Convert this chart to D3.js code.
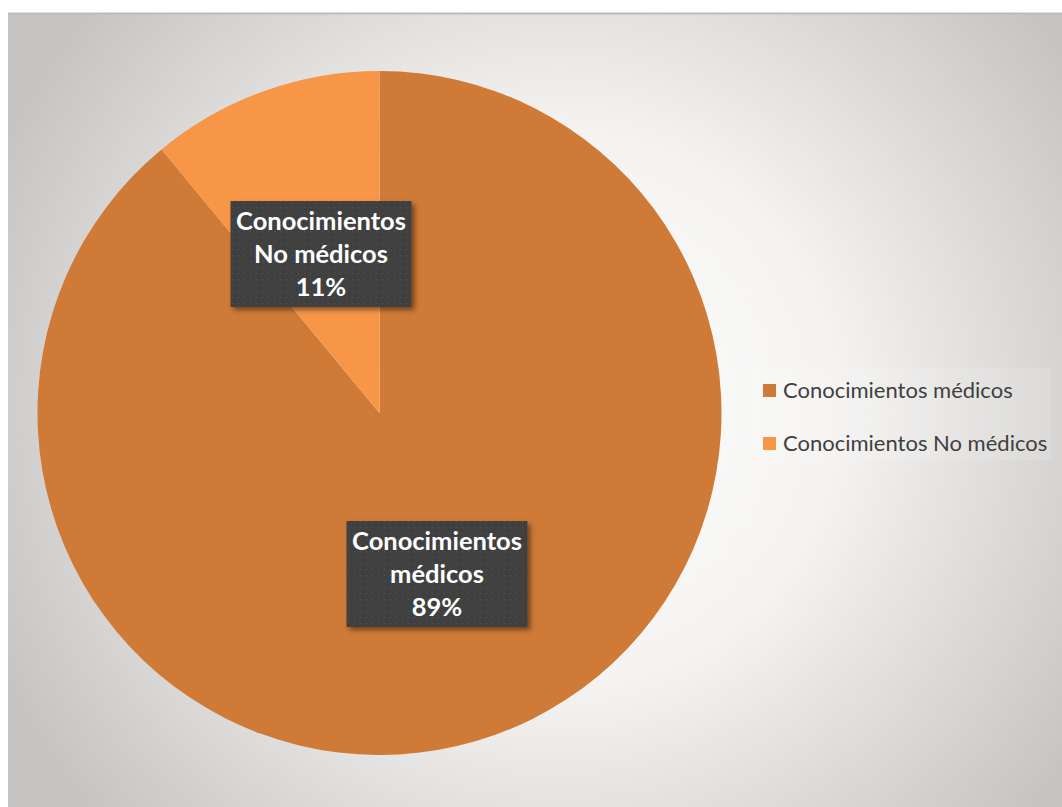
<!DOCTYPE html>
<html>
<head>
<meta charset="utf-8">
<script src="https://cdn.jsdelivr.net/npm/d3@7"></script>
<style>
  html, body { margin: 0; padding: 0; background: #fff; }
</style>
</head>
<body>
<div id="chart"></div>
<script>
// Data
const categories = ["Conocimientos médicos", "Conocimientos No médicos"];
const values = [89, 11];
const labelLines = [["Conocimientos", "médicos", "89%"], ["Conocimientos", "No médicos", "11%"]];
const colors = ["#CF7A36", "#F79646"];

const width = 1062;
const height = 807;

const svg = d3.select("#chart")
    .append("svg")
    .attr("width", width)
    .attr("height", height)
    .style("display", "block");

const defs = svg.append("defs");

// Background radial gradient (white center, grey edges).
const bg = defs.append("radialGradient")
    .attr("id", "bg")
    .attr("gradientUnits", "userSpaceOnUse")
    .attr("cx", 560).attr("cy", 410).attr("r", 620);
bg.append("stop").attr("offset", "0%").attr("stop-color", "#ffffff");
bg.append("stop").attr("offset", "45%").attr("stop-color", "#f4f3f2");
bg.append("stop").attr("offset", "100%").attr("stop-color", "#c6c4c2");

// Dot pattern for label boxes.
const pat = defs.append("pattern")
    .attr("id", "dots")
    .attr("patternUnits", "userSpaceOnUse")
    .attr("width", 6).attr("height", 6);
pat.append("rect").attr("width", 6).attr("height", 6).attr("fill", "#3f3f3f");
pat.append("rect").attr("x", 1).attr("y", 1).attr("width", 1).attr("height", 1).attr("fill", "#555");

const shadow = defs.append("filter").attr("id", "shadow")
    .attr("x", "-10%").attr("y", "-10%").attr("width", "130%").attr("height", "130%");
shadow.append("feDropShadow")
    .attr("dx", 3).attr("dy", 3).attr("stdDeviation", 2.5)
    .attr("flood-color", "#000").attr("flood-opacity", 0.45);

// Chart area.
svg.append("rect")
    .attr("x", 8).attr("y", 13)
    .attr("width", width - 8).attr("height", height - 13)
    .attr("fill", "url(#bg)");
svg.append("line")
    .attr("x1", 8).attr("x2", width)
    .attr("y1", 13.5).attr("y2", 13.5)
    .attr("stroke", "#bdbbb9").attr("stroke-width", 2);

// Pie.
const cx = 379.5, cy = 413, radius = 342;
const pie = d3.pie().sort(null).value(d => d);
const arcs = pie(values);
const arc = d3.arc().innerRadius(0).outerRadius(radius);

const g = svg.append("g").attr("transform", `translate(${cx},${cy})`);
g.selectAll("path.slice")
    .data(arcs)
    .enter()
    .append("path")
    .attr("class", "slice")
    .attr("d", arc)
    .attr("fill", (d, i) => colors[i]);

// Data labels.
const labelPos = [
    [ 437 - cx, 574 - cy ],
    [ 321 - cx, 254 - cy ]
];
const boxW = 181, boxH = 106, lineH = 33;

arcs.forEach((d, i) => {
    const [lx, ly] = labelPos[i];
    const lg = g.append("g").attr("transform", `translate(${lx},${ly})`);
    lg.append("rect")
        .attr("x", -boxW / 2).attr("y", -boxH / 2)
        .attr("width", boxW).attr("height", boxH)
        .attr("fill", "url(#dots)")
        .attr("filter", "url(#shadow)");
    lg.selectAll("text")
        .data(labelLines[i])
        .enter()
        .append("text")
        .attr("x", 0)
        .attr("y", (t, j) => (j - 1) * lineH + 9)
        .attr("text-anchor", "middle")
        .attr("font-family", "Lato, 'Open Sans', sans-serif")
        .attr("font-weight", "bold")
        .attr("font-size", "25.5px")
        .attr("fill", "#ffffff")
        .text(t => t);
});

// Legend.
const legend = svg.append("g").attr("transform", "translate(763,384)");
legend.append("rect")
    .attr("x", -12).attr("y", -16)
    .attr("width", 300).attr("height", 92)
    .attr("fill", "#ffffff").attr("opacity", 0.12);
categories.forEach((c, i) => {
    const row = legend.append("g").attr("transform", `translate(0,${i * 53})`);
    row.append("rect")
        .attr("width", 13).attr("height", 13)
        .attr("fill", colors[i]);
    row.append("text")
        .attr("x", 20).attr("y", 14)
        .attr("font-family", "Lato, 'Open Sans', sans-serif")
        .attr("font-size", "22px")
        .attr("fill", "#404040")
        .text(c);
});
</script>
</body>
</html>
